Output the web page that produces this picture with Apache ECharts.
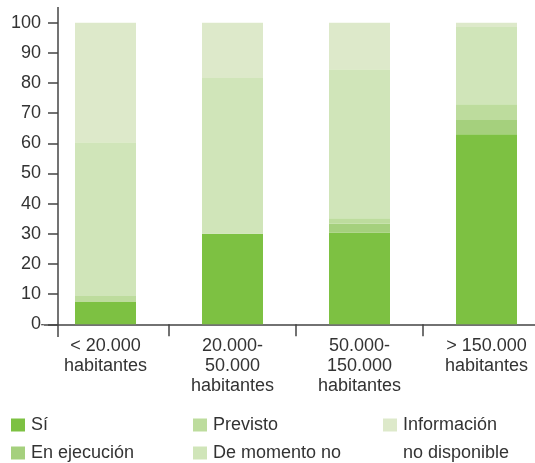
<!DOCTYPE html>
<html>
<head>
<meta charset="utf-8">
<script src="https://cdn.jsdelivr.net/npm/echarts@6/dist/echarts.min.js"></script>
<style>html,body{margin:0;padding:0;background:#fff;}#c{width:535px;height:463px;}</style>
</head>
<body>
<div id="c"></div>
<script>
var categories = ['< 20.000\nhabitantes', '20.000-\n50.000\nhabitantes', '50.000-\n150.000\nhabitantes', '> 150.000\nhabitantes'];
var si = [7.4, 30, 30.4, 63];
var enEjecucion = [0, 0, 2.9, 4.7];
var previsto = [2, 0, 1.9, 5.3];
var deMomentoNo = [51, 51.7, 49.4, 25.6];
var infoNoDisponible = [39.6, 18.3, 15.4, 1.4];
var yTicks = [0, 10, 20, 30, 40, 50, 60, 70, 80, 90, 100];

var FONT = 'Liberation Sans, Arial, sans-serif';
var TXT = '#333333';
var AX = '#444444';
var chart = echarts.init(document.getElementById('c'));

function bar(name, data, color) {
  return { name: name, type: 'bar', stack: 'a', data: data, barWidth: 61,
    itemStyle: { color: color }, emphasis: { disabled: true }, animation: false };
}
var legendBase = {
  orient: 'vertical', itemWidth: 14, itemHeight: 13, itemGap: 8, icon: 'rect',
  selectedMode: false, padding: 0, height: 120, itemStyle: { borderWidth: 0 },
  textStyle: { fontFamily: FONT, fontSize: 18, color: TXT, lineHeight: 20, padding: [0, 0, 0, 1] }
};
chart.setOption({
  animation: false,
  grid: { left: 42, width: 508, top: 22.7, height: 301.6, containLabel: false, outerBoundsMode: 'none' },
  xAxis: {
    type: 'category', data: categories,
    axisLine: { lineStyle: { color: AX, width: 1.5 } },
    axisTick: { show: true, interval: 0, length: 12, lineStyle: { color: AX, width: 1.5 } },
    axisLabel: { interval: 0, margin: 12, fontFamily: FONT, fontSize: 18, color: TXT, lineHeight: 20 }
  },
  yAxis: {
    type: 'value', min: yTicks[0], max: yTicks[yTicks.length - 1], interval: 10, offset: -16,
    axisLine: { show: false },
    axisTick: { show: true, length: 10, lineStyle: { color: AX, width: 1.5 } },
    splitLine: { show: false },
    axisLabel: { margin: 17, fontFamily: FONT, fontSize: 18, color: TXT }
  },
  legend: [
    Object.assign({}, legendBase, { left: 11, top: 415, data: ['Sí', 'En ejecución'] }),
    Object.assign({}, legendBase, { left: 193, top: 415, data: ['Previsto', 'De momento no'] }),
    Object.assign({}, legendBase, { left: 383, top: 383, data: ['Información no disponible'],
      formatter: function () { return ' \nInformación\nno disponible'; },
      textStyle: { fontFamily: FONT, fontSize: 18, color: TXT, lineHeight: 28, padding: [0, 0, 0, 1] } })
  ],
  graphic: [{ type: 'line', shape: { x1: 58, y1: 7, x2: 58, y2: 337 },
    style: { stroke: AX, lineWidth: 1.5 }, silent: true },
    { type: 'rect', shape: { x: 40.9, y: 325.3, width: 3, height: 13 }, style: { fill: '#ffffff' }, silent: true, z: 100 }],
  series: [
    bar('Sí', si, '#7dc142'),
    bar('En ejecución', enEjecucion, '#a5d07d'),
    bar('Previsto', previsto, '#bddc9d'),
    bar('De momento no', deMomentoNo, '#d0e5b9'),
    bar('Información no disponible', infoNoDisponible, '#dde9ca')
  ]
});
</script>
</body>
</html>
